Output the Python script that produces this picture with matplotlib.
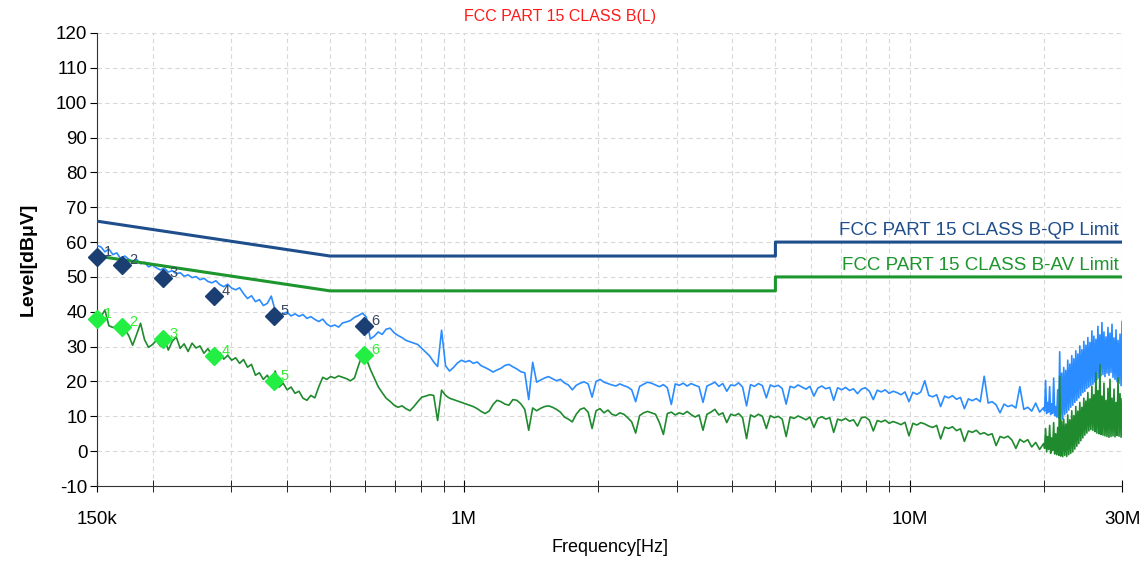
#!/usr/bin/env python

import numpy as np
import matplotlib
matplotlib.use("Agg")
import matplotlib.pyplot as plt

plt.rcParams['font.family'] = ['Liberation Sans', 'DejaVu Sans']
plt.rcParams['axes.unicode_minus'] = False

# limit lines (Hz, dBuV)
limit_freq = [150e3, 500e3, 5e6, 5e6, 30e6]
qp_limit = [66, 56, 56, 60, 60]
av_limit = [56, 46, 46, 50, 50]

# final measurement points
mark_freq = [150e3, 171e3, 211e3, 275e3, 374e3, 597e3]
mark_qp = [55.7, 53.4, 49.6, 44.5, 38.7, 35.9]
mark_av = [37.9, 35.6, 32.1, 27.3, 20.1, 27.5]

# peak scan, 150k..20M
peak_a = [59.0, 58.6, 57.2, 58.0, 56.4, 56.9, 55.2, 56.0, 55.1, 54.3,
          55.0, 53.8, 54.2, 52.9, 53.4, 52.6, 52.0, 52.5, 51.4, 51.8,
          50.9, 51.2, 50.2, 50.6, 49.8, 50.1, 49.2, 49.6, 48.7, 48.3,
          48.9, 47.8, 47.2, 47.9, 46.8, 46.3, 46.9, 45.2, 43.8, 44.6,
          42.9, 43.5, 41.8, 42.4, 44.5, 40.2, 38.6, 39.5, 39.9, 38.8,
          39.4, 38.7, 39.2, 38.1, 38.6, 37.8, 37.2, 37.9, 36.5, 35.8,
          36.2, 35.6, 36.8, 37.1, 37.5, 38.4, 38.9, 39.6, 38.5, 32.2,
          33.0, 34.2, 33.5, 35.0, 35.3, 34.0, 33.2, 32.6, 31.8, 31.4,
          31.0, 30.6, 29.5, 28.4, 27.3, 25.6, 24.3, 34.7, 24.5, 23.0,
          24.0, 25.3, 26.1, 25.6, 26.0, 25.2, 25.6, 24.5, 24.0, 23.4,
          22.7, 23.3, 23.8, 24.6, 24.9, 24.2, 23.6, 22.8, 22.5, 14.8,
          25.5, 19.8, 20.4, 21.0, 21.4, 20.8, 20.2, 20.6, 19.6, 19.0,
          17.6, 18.9, 19.5, 19.9, 19.3, 15.5, 20.0, 20.6, 19.8, 19.4,
          19.0, 18.7, 19.3, 18.8, 18.4, 17.6, 14.2, 18.6, 19.2, 19.8,
          19.5, 19.0, 18.5, 19.1, 18.2, 13.4, 19.3, 18.9, 19.5, 18.7,
          19.4, 18.9, 18.5, 14.0, 18.7, 19.2, 19.8, 18.6, 19.4, 17.2,
          19.0, 18.8, 19.6, 18.4, 13.0, 19.1, 18.6, 19.4, 18.8, 15.3,
          19.0, 18.5, 18.9, 18.0, 13.5, 18.6, 18.2, 19.0, 18.4, 17.8,
          18.6, 15.8, 18.1, 18.7, 17.9, 18.3, 14.6, 18.2, 17.6, 18.3,
          17.4, 17.9, 16.5, 17.8, 18.2, 17.2, 14.8, 17.5, 17.0, 17.6,
          16.6, 17.2, 16.8, 16.2, 17.0, 14.2, 16.9, 16.3, 17.0, 20.2,
          16.0, 15.6, 16.2, 12.8, 15.8, 15.3, 15.9, 14.9, 15.4, 12.2,
          15.0, 14.5, 15.1, 14.2, 21.5, 13.8, 14.2, 13.3, 11.0, 13.5,
          12.8, 13.2, 12.4, 18.5, 12.0, 12.6, 11.5, 13.8, 11.2, 12.5]

# peak scan, 20M..30M
peak_b = [11.5, 20.3, 10.8, 14.0, 11.2, 18.5, 10.5, 13.6, 10.9, 21.0,
          10.2, 12.8, 9.8, 17.6, 9.5, 28.5, 8.6, 22.4, 9.2, 24.0,
          10.5, 23.2, 11.0, 26.1, 11.8, 25.0, 12.6, 27.4, 13.2, 26.5,
          14.0, 28.8, 14.6, 27.9, 15.3, 30.2, 16.0, 29.1, 16.8, 31.5,
          17.2, 30.4, 18.0, 32.6, 18.4, 31.2, 18.9, 34.5, 19.2, 33.0,
          19.8, 32.1, 20.5, 35.8, 21.0, 33.4, 21.6, 36.9, 22.0, 34.2,
          21.4, 32.8, 22.4, 35.5, 21.8, 33.9, 22.6, 36.4, 21.2, 32.5,
          20.6, 34.8, 20.0, 31.8, 19.5, 33.6, 18.8, 37.2]

# average scan, 150k..20M
avg_a = [38.0, 38.6, 40.5, 36.0, 35.5, 35.8, 35.6, 35.0, 33.2, 30.4,
         33.5, 36.7, 32.0, 29.8, 30.6, 31.8, 30.2, 32.3, 29.0, 31.5,
         32.8, 29.5, 30.8, 28.6, 31.0, 29.6, 30.2, 28.1, 29.4, 27.6,
         27.0, 28.3, 26.4, 27.5, 26.1, 26.8, 25.2, 26.3, 24.1, 24.9,
         21.8, 22.5, 20.6, 21.8, 19.6, 23.0, 18.4, 19.5, 17.6, 18.4,
         16.6, 17.2, 15.2, 14.6, 16.0, 15.3, 18.5, 21.2, 20.6, 21.4,
         21.0, 21.6, 21.2, 20.8, 20.2, 21.0, 24.5, 27.8, 26.6, 23.5,
         21.0, 18.5, 16.8, 15.2, 14.3, 13.2, 12.6, 13.0, 12.2, 11.6,
         12.8, 14.2, 15.5, 15.8, 16.2, 16.0, 8.8, 17.5, 16.0, 15.2,
         14.8, 14.4, 14.0, 13.6, 13.2, 12.8, 12.2, 11.4, 10.8, 11.5,
         13.4, 14.6, 14.2, 13.5, 13.2, 14.8, 14.6, 13.6, 12.0, 6.0,
         12.4, 11.6, 12.3, 12.8, 13.0, 12.6, 12.0, 11.2, 9.8, 9.2,
         8.4, 10.6, 12.0, 12.4, 11.2, 6.5, 11.6, 12.2, 11.0, 11.8,
         10.6, 10.2, 11.0, 10.6, 9.6, 8.4, 5.2, 10.2, 11.0, 11.4,
         11.0, 10.6, 8.2, 4.8, 10.8, 11.2, 10.4, 11.0, 10.6, 11.4,
         10.5, 9.8, 10.4, 6.0, 10.6, 11.2, 12.0, 10.4, 11.0, 8.2,
         10.6, 10.2, 10.8, 9.6, 3.6, 10.4, 9.8, 10.6, 10.0, 6.5,
         10.2, 9.6, 10.0, 9.2, 4.2, 9.8, 9.4, 10.1, 9.6, 9.0,
         9.8, 6.8, 9.4, 9.9, 9.2, 9.6, 5.4, 9.2, 8.8, 9.4,
         8.6, 9.0, 7.2, 9.6, 9.8, 8.9, 5.8, 8.8, 8.4, 8.9,
         8.0, 8.5, 8.1, 7.6, 8.3, 4.4, 8.0, 7.5, 8.2, 7.8,
         7.2, 6.8, 7.4, 3.5, 6.9, 6.5, 7.0, 5.9, 6.4, 2.8,
         5.8, 5.4, 6.0, 4.9, 5.3, 4.6, 5.0, 1.6, 4.2, 3.8,
         4.3, 3.2, 0.8, 3.4, 2.6, 3.3, 1.2, 2.5, 0.5, 2.2]

# average scan, 20M..30M
avg_b = [0.8, 6.5, -0.2, 4.2, 0.5, 7.4, -0.6, 3.8, 0.2, 8.2,
         -0.8, 5.0, -1.0, 6.8, -1.2, 21.5, -1.4, 8.6, -1.6, 9.2,
         -1.2, 7.8, -1.5, 10.4, -1.0, 9.0, -0.6, 11.6, -0.2, 10.2,
         0.6, 12.8, 1.4, 11.5, 2.2, 14.0, 3.0, 12.6, 3.8, 15.2,
         4.6, 14.4, 5.2, 16.8, 5.8, 15.0, 6.2, 18.6, 6.0, 16.2,
         5.6, 22.5, 5.2, 17.4, 5.0, 24.8, 4.8, 15.8, 4.6, 19.5,
         4.4, 14.6, 4.2, 18.0, 4.0, 20.6, 4.2, 15.2, 4.4, 17.8,
         4.1, 14.0, 4.5, 21.0, 4.3, 16.5, 4.0, 15.0]

x_ticks = [150e3, 1e6, 10e6, 30e6]
x_labels = ['150k', '1M', '10M', '30M']

# sweep frequency grids
f_a = np.geomspace(150e3, 20e6, len(peak_a))
f_b = np.geomspace(20e6, 30e6, len(peak_b) + 1)[1:]
freq_peak = np.concatenate([f_a, f_b])
level_peak = np.array(peak_a + peak_b)
g_a = np.geomspace(150e3, 20e6, len(avg_a))
g_b = np.geomspace(20e6, 30e6, len(avg_b) + 1)[1:]
freq_avg = np.concatenate([g_a, g_b])
level_avg = np.array(avg_a + avg_b)

fig = plt.figure(figsize=(11.48, 5.62), dpi=100)
ax = fig.add_axes([0.0845, 0.1352, 0.8929, 0.8061])

ax.plot(freq_peak, level_peak, color='#2b8cff', lw=1.2, zorder=3)
ax.plot(freq_avg, level_avg, color='#1f8a2e', lw=1.2, zorder=4)

ax.plot(limit_freq, qp_limit, color='#1f4e8c', lw=2.2, zorder=5)
ax.plot(limit_freq, av_limit, color='#1e962e', lw=2.2, zorder=5)

ax.plot(mark_freq, mark_qp, 'D', color='#1b3f73', ms=9, ls='none',
        zorder=6, clip_on=False)
ax.plot(mark_freq, mark_av, 'D', color='#22ee44', ms=9, ls='none',
        zorder=6, clip_on=False)
for i in range(len(mark_freq)):
    ax.annotate(str(i + 1), (mark_freq[i], mark_qp[i]), xytext=(5, 1),
                textcoords='offset points', color='#3a4660', fontsize=10.5,
                zorder=7)
    ax.annotate(str(i + 1), (mark_freq[i], mark_av[i]), xytext=(5, 1),
                textcoords='offset points', color='#33ee33', fontsize=10.5,
                zorder=7)

ax.text(29.5e6, 60.8, 'FCC PART 15 CLASS B-QP Limit', color='#1f4e8c',
        fontsize=13.5, ha='right', va='bottom')
ax.text(29.5e6, 50.8, 'FCC PART 15 CLASS B-AV Limit', color='#1e962e',
        fontsize=13.5, ha='right', va='bottom')

ax.set_xscale('log')
ax.set_xlim(150e3, 30e6)
ax.set_ylim(-10, 120)
ax.set_yticks(np.arange(-10, 121, 10))
ax.set_xticks(x_ticks)
ax.set_xticklabels(x_labels)
minor = [f * m for m in (1e5, 1e6) for f in range(2, 10)] + [2e7]
ax.set_xticks([m for m in minor if m > 150e3], minor=True)
ax.xaxis.set_minor_formatter(matplotlib.ticker.NullFormatter())

ax.tick_params(axis='x', which='both', direction='inout', length=8,
               labelsize=13.5, pad=14)
ax.tick_params(axis='y', direction='out', length=5, labelsize=13.5, pad=2)
ax.grid(True, which='both', color='#d8d8d8', ls=(0, (4, 3)), lw=0.8)
ax.set_axisbelow(True)
for s in ('top', 'right'):
    ax.spines[s].set_visible(False)
ax.spines['left'].set_color('#333333')
ax.spines['bottom'].set_color('#333333')

ax.set_xlabel('Frequency[Hz]', fontsize=13, labelpad=8)
ax.set_ylabel('Level[dBμV]', fontsize=14, fontweight='bold', labelpad=14)
fig.text(0.488, 0.97, 'FCC PART 15 CLASS B(L)', color='#ff1a1a',
         fontsize=11.5, ha='center', va='center')

fig.savefig('out.png', dpi=100)
